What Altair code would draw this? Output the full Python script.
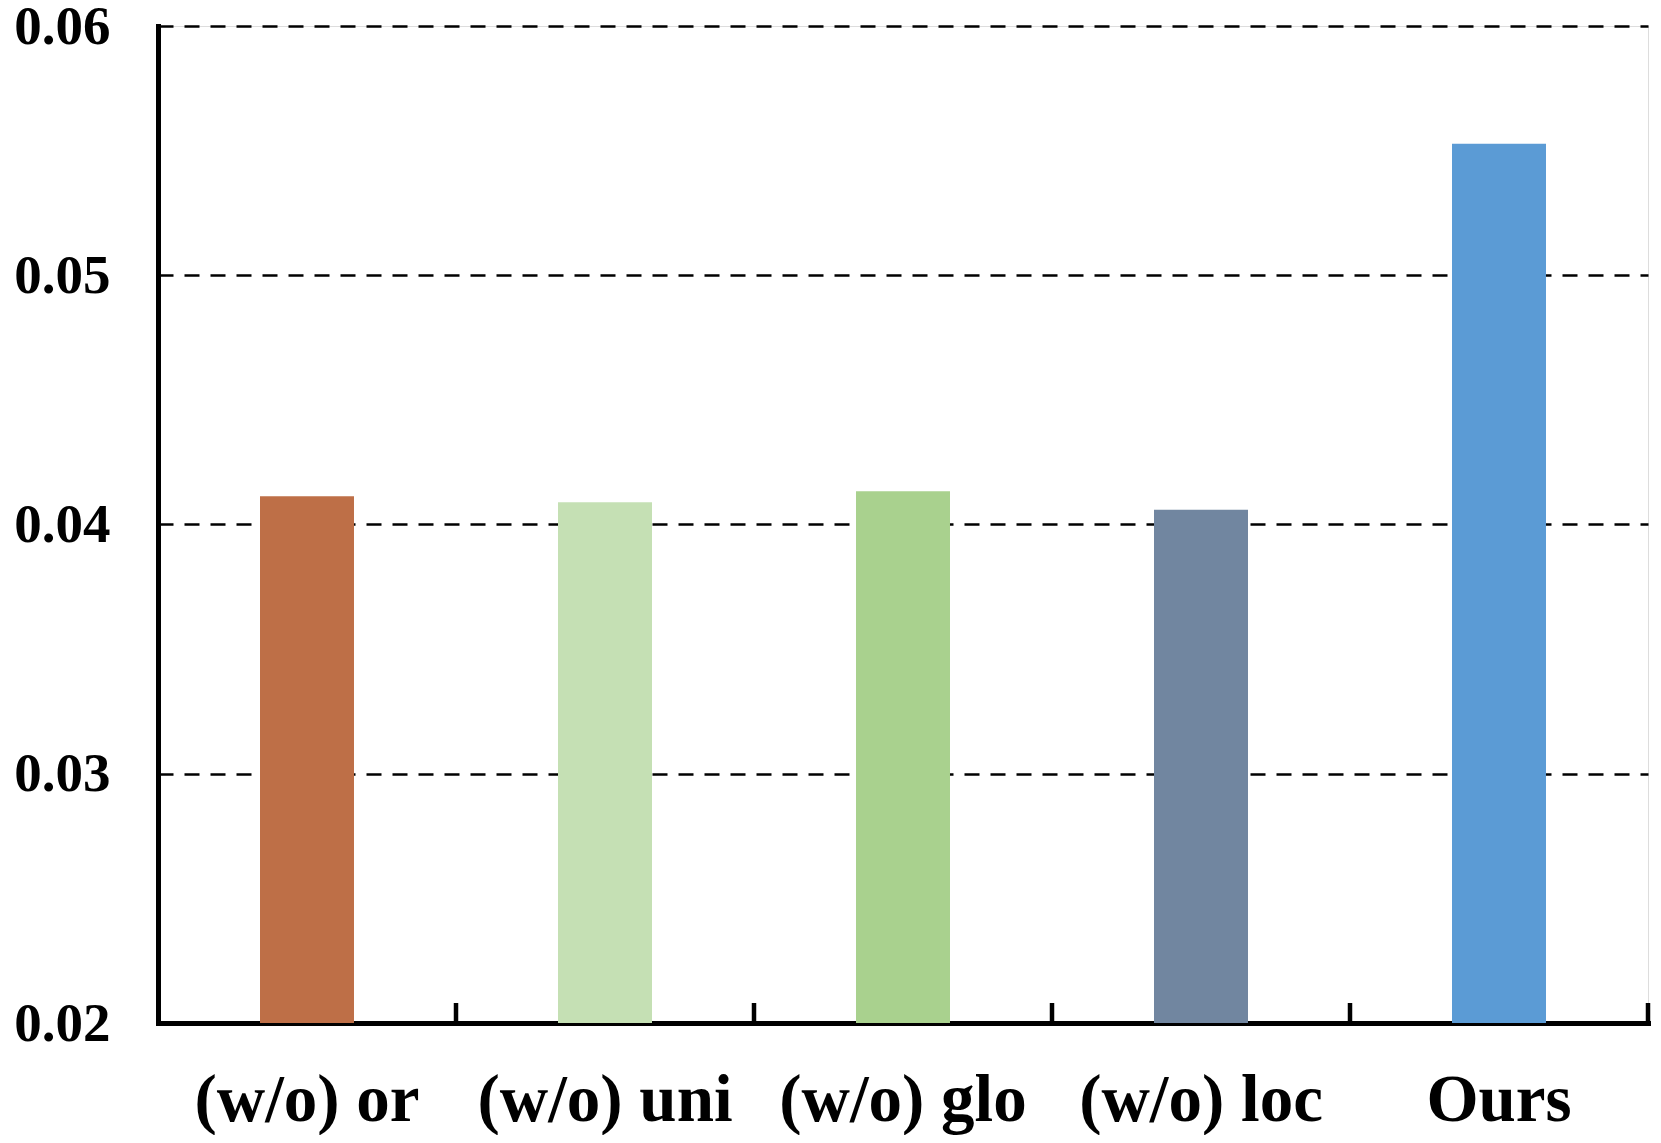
import altair as alt
import pandas as pd

categories = ["(w/o) or", "(w/o) uni", "(w/o) glo", "(w/o) loc", "Ours"]
values = [0.04113, 0.04089, 0.04133, 0.04059, 0.05528]
colors = ["#BE6F47", "#C5E0B4", "#A9D18E", "#7186A0", "#5B9BD5"]
y_ticks = [0.02, 0.03, 0.04, 0.05, 0.06]

df = pd.DataFrame({"cat": categories, "val": values, "col": colors})
ticks_left = pd.DataFrame({"cat": categories[1:]})
ticks_right = pd.DataFrame({"cat": categories[-1:]})

W, H = 1490, 997
FONT = "Liberation Serif"

xscale = alt.Scale(domain=categories, paddingInner=0, paddingOuter=0)
yscale = alt.Scale(domain=[0.02, 0.06], zero=False, nice=False)

bars = alt.Chart(df).mark_bar(width=alt.RelativeBandSize(0.3154)).encode(
    x=alt.X("cat:N", scale=xscale, sort=categories,
            axis=alt.Axis(title=None, labelAngle=0, ticks=False,
                          labelFont=FONT, labelFontSize=67, labelFontWeight="bold",
                          labelColor="black", labelBaseline="alphabetic",
                          labelPadding=97, labelLimit=500,
                          domainColor="black", domainWidth=5, domainCap="square",
                          grid=False)),
    y=alt.Y("val:Q", scale=yscale,
            axis=alt.Axis(title=None, values=y_ticks, format=".2f", ticks=False,
                          labelFont=FONT, labelFontSize=55, labelFontWeight="bold",
                          labelColor="black", labelPadding=48,
                          domainColor="black", domainWidth=5, domainCap="square",
                          grid=True, gridColor="black", gridWidth=2.5,
                          gridDash=[15, 11])),
    y2=alt.datum(0.02),
    color=alt.Color("col:N", scale=None),
)

tl = alt.Chart(ticks_left).mark_rule(color="black", strokeWidth=4.5).encode(
    x=alt.X("cat:N", scale=xscale, sort=categories, bandPosition=0),
    y=alt.value(H),
    y2=alt.value(H - 20),
)
tr = alt.Chart(ticks_right).mark_rule(color="black", strokeWidth=4.5).encode(
    x=alt.X("cat:N", scale=xscale, sort=categories, bandPosition=1),
    y=alt.value(H),
    y2=alt.value(H - 20),
)

chart = alt.layer(bars, tl, tr).properties(
    width=W, height=H,
    autosize=alt.AutoSizeParams(type="none"),
    padding={"left": 150, "top": 18, "right": 5, "bottom": 112},
).configure_view(stroke=None).configure(background="white")

chart.save("out.html", embed_options={"renderer": "svg", "actions": False})
